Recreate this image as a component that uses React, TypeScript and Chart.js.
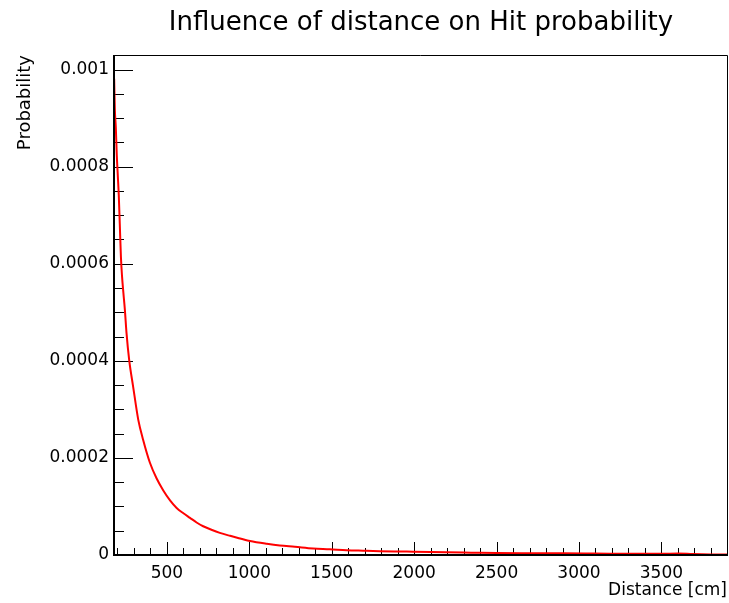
import React, { useEffect, useRef } from "react";
import { Chart, registerables } from "chart.js";

Chart.register(...registerables);

// ---- Data ----
const DISTANCE_CM: number[] = [
  180, 184, 190, 196, 202, 208, 214, 221, 228, 236, 245, 255, 271, 295, 326,
  356, 397, 437, 478, 520, 559, 600, 640, 680, 720, 770, 821, 883, 950, 1004,
  1106, 1185, 1276, 1387, 1488, 1590, 1690, 1792, 1900, 1994, 2100, 2196,
  2300, 2398, 2500, 2700, 2900, 3095, 3300, 3500, 3600, 3690, 3800, 3904,
];
const HIT_PROBABILITY: number[] = [
  0.000981, 0.000919, 0.000881, 0.000823, 0.000782, 0.000741, 0.000683,
  0.000614, 0.000573, 0.00054, 0.000505, 0.000457, 0.000402, 0.000347,
  0.000279, 0.000237, 0.00019, 0.000158, 0.000133, 0.000112, 0.000097,
  0.000086, 0.0000765, 0.000067, 0.0000592, 0.000052, 0.0000456, 0.0000395,
  0.0000335, 0.0000288, 0.000023, 0.0000195, 0.0000169, 0.0000134, 0.0000119,
  0.0000099, 0.0000088, 0.0000078, 0.0000072, 0.0000068, 0.0000063,
  0.0000058, 0.0000052, 0.0000045, 0.000004, 0.0000037, 0.0000034, 0.000003,
  0.0000026, 0.0000024, 0.000003, 0.000002, 0.0000012, 0.000001,
];

const X_MIN = 179;
const X_MAX = 3904;
const Y_MIN = 0;
const Y_MAX = 0.00103;

const X_TICK_VALUES: number[] = [500, 1000, 1500, 2000, 2500, 3000, 3500];
const X_TICK_LABELS: string[] = ["500", "1000", "1500", "2000", "2500", "3000", "3500"];
const Y_TICK_VALUES: number[] = [0, 0.0002, 0.0004, 0.0006, 0.0008, 0.001];
const Y_TICK_LABELS: string[] = ["0", "0.0002", "0.0004", "0.0006", "0.0008", "0.001"];

const X_MINOR_STEP = 100;
const Y_MINOR_STEP = 0.00005;

const TITLE = "Influence of distance on Hit probability";
const X_TITLE = "Distance [cm]";
const Y_TITLE = "Probability";

const FONT = '"DejaVu Sans", "Liberation Sans", Arial, sans-serif';

const rootStylePlugin = {
  id: "rootStyle",
  beforeDatasetsDraw(chart: any) {
    const { ctx, chartArea: a, scales } = chart;
    const x = scales.x;
    const y = scales.y;
    ctx.save();
    ctx.strokeStyle = "#000";
    ctx.lineWidth = 1;
    ctx.beginPath();
    // y ticks (inside)
    for (let v = Y_MIN; v <= Y_MAX + 1e-12; v += Y_MINOR_STEP) {
      const isMajor = Y_TICK_VALUES.some((t) => Math.abs(t - v) < 1e-9);
      const py = Math.round(y.getPixelForValue(v)) + 0.5;
      ctx.moveTo(a.left, py);
      ctx.lineTo(a.left + (isMajor ? 19 : 10), py);
    }
    // x ticks (inside)
    const start = Math.ceil(X_MIN / X_MINOR_STEP) * X_MINOR_STEP;
    for (let v = start; v <= X_MAX; v += X_MINOR_STEP) {
      const isMajor = X_TICK_VALUES.includes(v);
      const px = Math.round(x.getPixelForValue(v)) + 0.5;
      ctx.moveTo(px, a.bottom);
      ctx.lineTo(px, a.bottom - (isMajor ? 13 : 7));
    }
    ctx.stroke();
    ctx.restore();
  },
  afterDraw(chart: any) {
    const { ctx, chartArea: a } = chart;
    ctx.save();
    // frame
    ctx.strokeStyle = "#000";
    ctx.lineWidth = 1;
    ctx.beginPath();
    ctx.moveTo(a.left, a.top + 0.5);
    ctx.lineTo(a.right - 0.5, a.top + 0.5);
    ctx.lineTo(a.right - 0.5, a.bottom);
    ctx.stroke();
    ctx.lineWidth = 2;
    ctx.beginPath();
    ctx.moveTo(a.left, a.top);
    ctx.lineTo(a.left, a.bottom);
    ctx.lineTo(a.right, a.bottom);
    ctx.stroke();

    ctx.fillStyle = "#000";
    // title
    ctx.font = `26px ${FONT}`;
    ctx.textAlign = "center";
    ctx.textBaseline = "alphabetic";
    ctx.fillText(TITLE, (a.left + a.right) / 2, 30);
    // x title
    ctx.font = `17px ${FONT}`;
    ctx.textAlign = "right";
    ctx.fillText(X_TITLE, a.right - 1, 595);
    // y title
    ctx.font = `18px ${FONT}`;
    ctx.save();
    ctx.translate(30, a.top);
    ctx.rotate(-Math.PI / 2);
    ctx.textAlign = "right";
    ctx.fillText(Y_TITLE, 0, 0);
    ctx.restore();
    ctx.restore();
  },
};

export default function App() {
  const canvasRef = useRef<HTMLCanvasElement | null>(null);

  useEffect(() => {
    document.body.style.margin = "0";
    document.body.style.background = "#ffffff";
    const canvas = canvasRef.current;
    if (!canvas) return;
    const chart = new Chart(canvas, {
      type: "line",
      data: {
        datasets: [
          {
            data: DISTANCE_CM.map((d, i) => ({ x: d, y: HIT_PROBABILITY[i] })),
            borderColor: "#ff0000",
            borderWidth: 2,
            pointRadius: 0,
            fill: false,
            cubicInterpolationMode: "monotone",
          },
        ],
      },
      options: {
        animation: false,
        responsive: false,
        devicePixelRatio: 1,
        layout: { padding: { top: 55, right: 1, left: 0, bottom: 0 } },
        plugins: {
          legend: { display: false },
          tooltip: { enabled: false },
          title: { display: false },
        },
        scales: {
          x: {
            type: "linear",
            min: X_MIN,
            max: X_MAX,
            grid: { display: false, drawTicks: false },
            border: { display: false },
            afterBuildTicks: (s: any) => {
              s.ticks = X_TICK_VALUES.map((v) => ({ value: v }));
            },
            afterFit: (s: any) => {
              s.height = 48;
            },
            ticks: {
              autoSkip: false,
              maxRotation: 0,
              minRotation: 0,
              padding: 8,
              color: "#000",
              font: { family: FONT, size: 17 },
              callback: (_v: any, i: number) => X_TICK_LABELS[i],
            },
          },
          y: {
            type: "linear",
            min: Y_MIN,
            max: Y_MAX,
            grid: { display: false, drawTicks: false },
            border: { display: false },
            afterBuildTicks: (s: any) => {
              s.ticks = Y_TICK_VALUES.map((v) => ({ value: v }));
            },
            afterFit: (s: any) => {
              s.width = 114;
            },
            ticks: {
              autoSkip: false,
              padding: 5,
              color: "#000",
              font: { family: FONT, size: 17 },
              callback: (_v: any, i: number) => Y_TICK_LABELS[i],
            },
          },
        },
      },
      plugins: [rootStylePlugin],
    } as any);
    return () => chart.destroy();
  }, []);

  return (
    <div style={{ width: 729, height: 603, background: "#fff" }}>
      <canvas ref={canvasRef} width={729} height={603} style={{ display: "block" }} />
    </div>
  );
}
